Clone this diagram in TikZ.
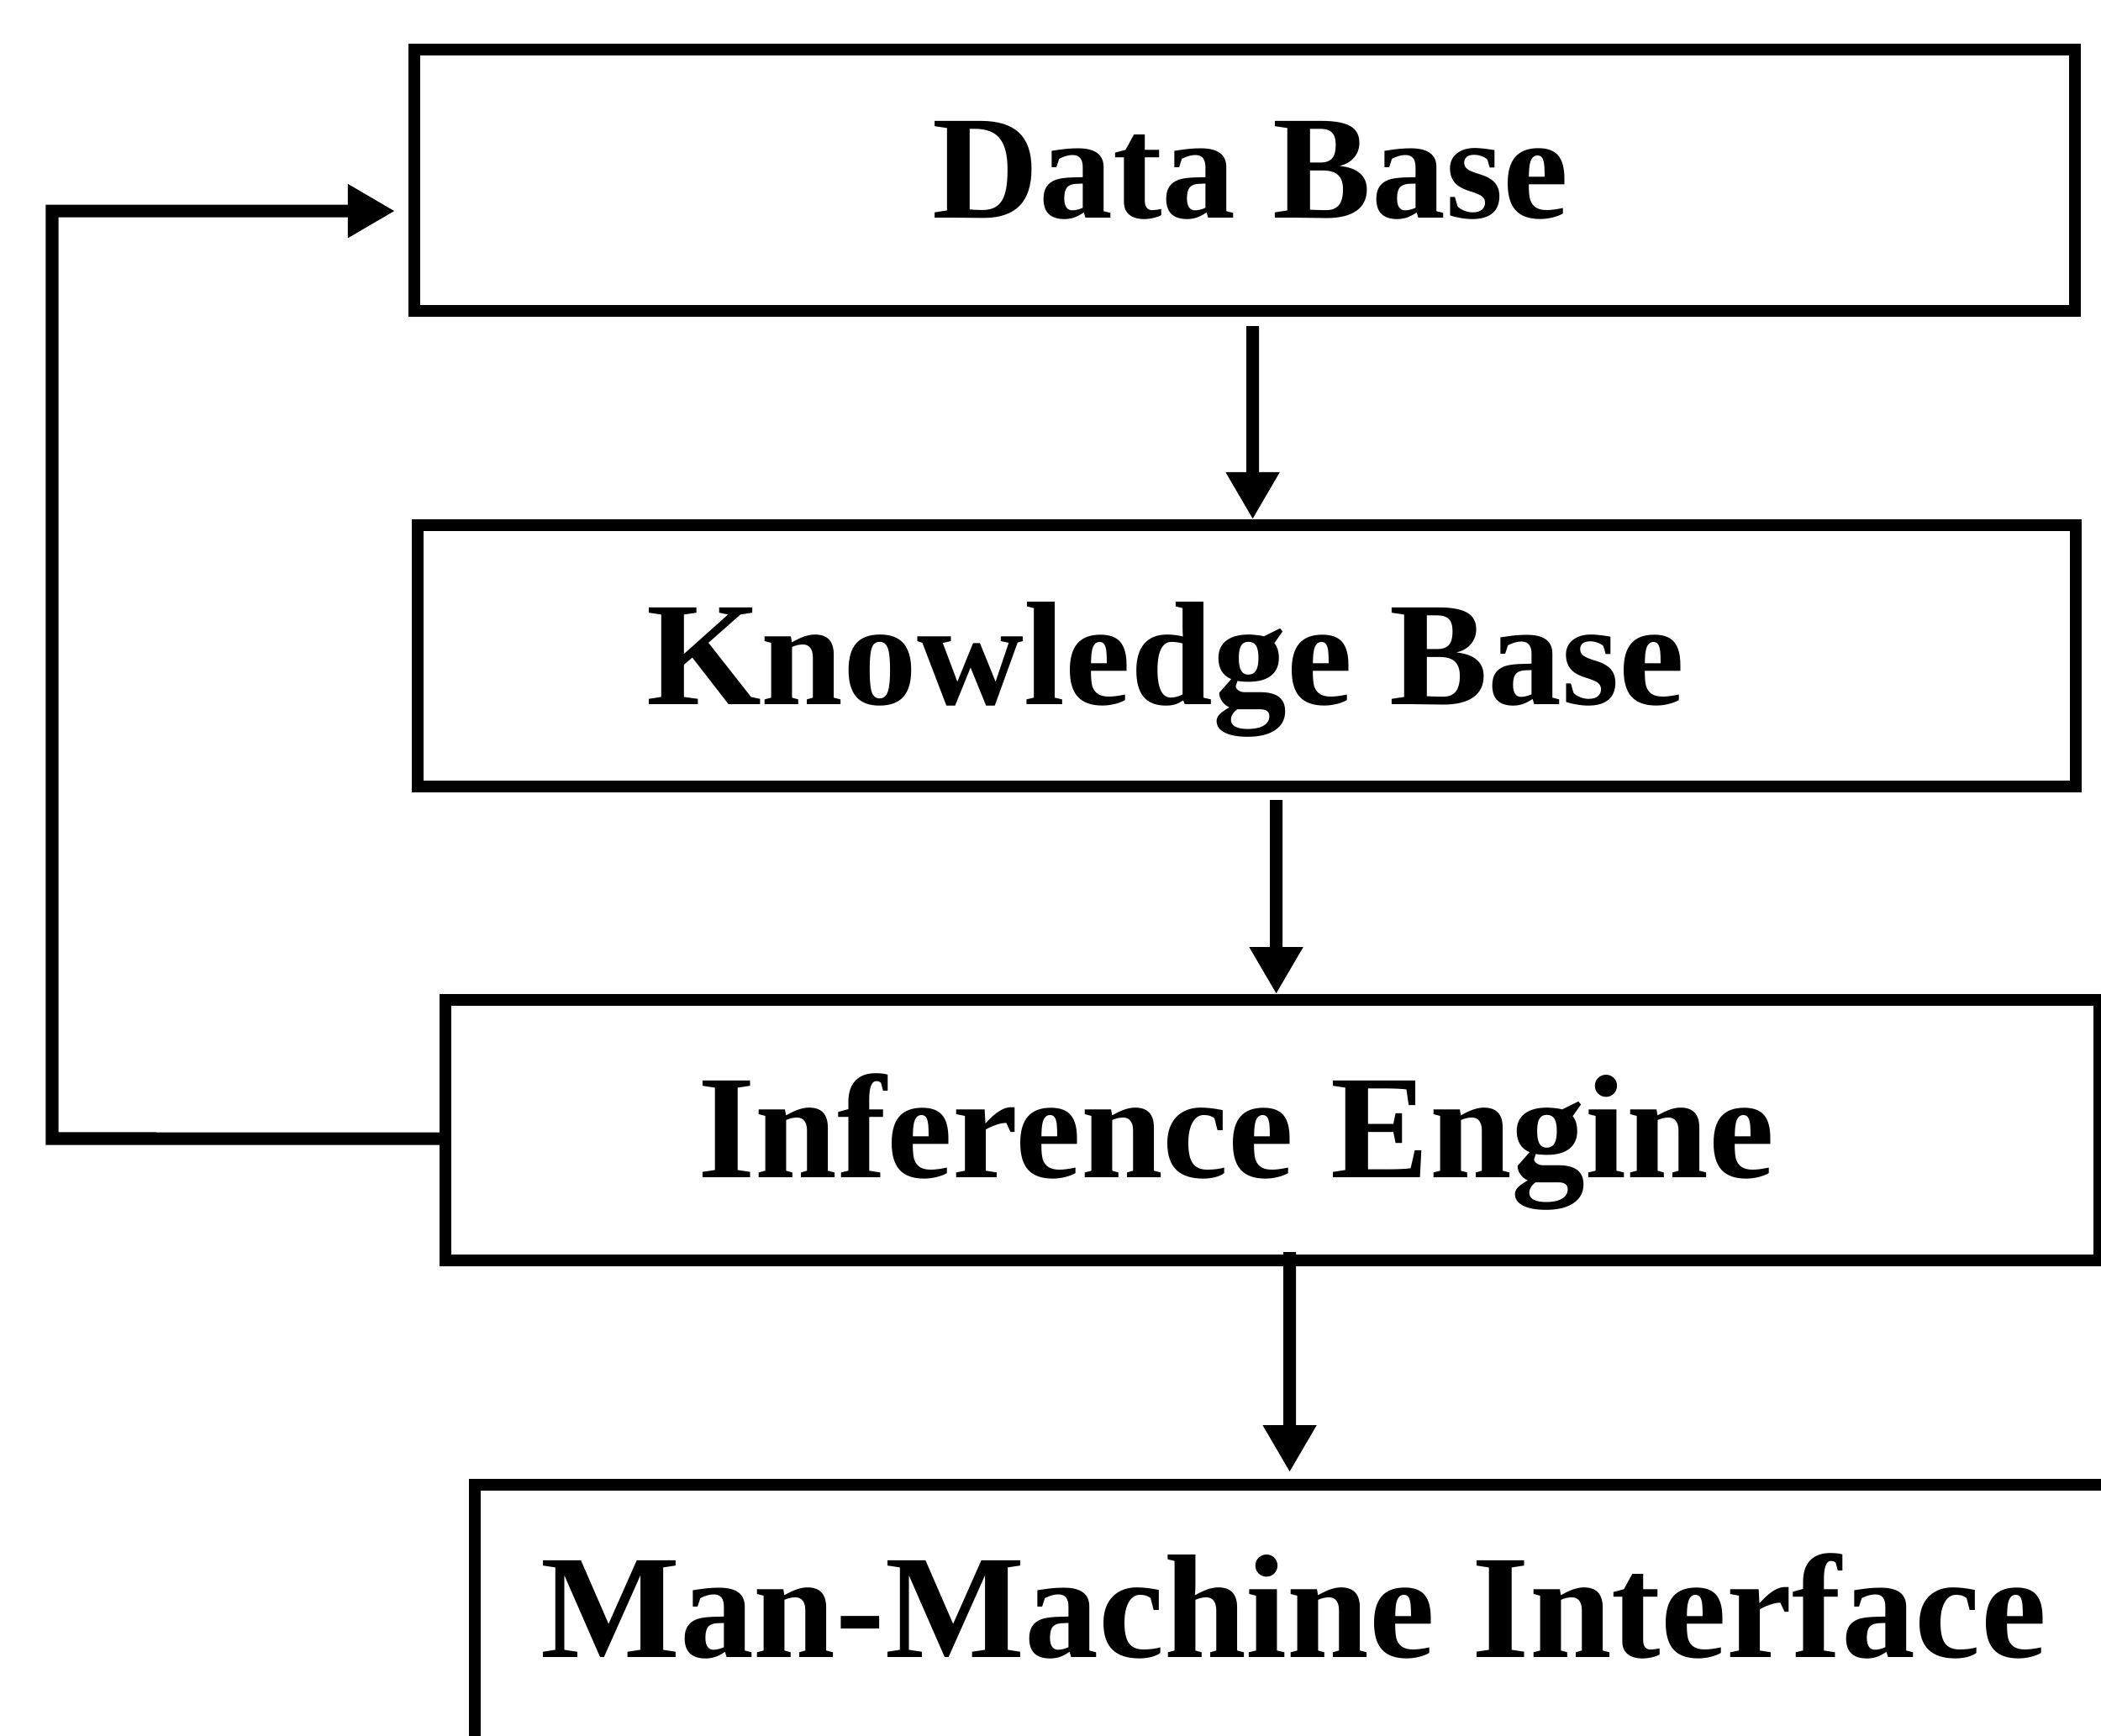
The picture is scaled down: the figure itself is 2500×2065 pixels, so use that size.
\documentclass[tikz,border=0pt]{standalone}
\usepackage{fontspec}
\setmainfont{Liberation Serif}
\usetikzlibrary{arrows.meta,calc}
\begin{document}
\begin{tikzpicture}[x=0.01cm,y=-0.01cm,
  box/.style={draw,line width=4.1pt,rectangle,inner sep=0pt,outer sep=0pt,anchor=north west},
  lbl/.style={font=\fontsize{50}{60}\selectfont\bfseries,anchor=base,inner sep=0pt},
  arr/.style={line width=4.3pt,-{Triangle[length=0.56cm,width=0.6cm]}}]
\clip (0,0) rectangle (2500,2065);
\fill[white] (0,0) rectangle (2500,2065);

% blocks
\node[box,minimum width=19.75cm,minimum height=3.11cm] (db) at (493,59) {};
\node[box,minimum width=19.72cm,minimum height=3.11cm] (kb) at (497,625) {};
\node[box,minimum width=19.67cm,minimum height=3.10cm] (ie) at (530,1190) {};
\node[box,minimum width=20cm,minimum height=4cm] (mmi) at (565,1767) {};

% block titles
\node[lbl] (db-t) at (1488,259) {Data Base};
\node[lbl] (kb-t) at (1387,838) {Knowledge Base};
\node[lbl] (ie-t) at (1471,1401) {Inference Engine};
\node[lbl] (mmi-t) at (1539,1972) {Man-Machine Interface};

% downward flow
\draw[arr] ($(db.south)+(9.5,18)$) -- ($(kb.north)+(7,-7)$);
\draw[arr] ($(kb.south)+(35,16)$) -- ($(ie.north)+(4.5,-7)$);
\draw[arr] ($(ie.south)+(20.5,-10)$) -- ($(mmi.north)+(-31,-15)$);

% feedback loop
\coordinate (loop) at (62,1355);
\draw[arr] ($(ie.west)+(0,10)$) -- (loop) |- ($(db.west)+(-23,36.5)$);
\end{tikzpicture}
\end{document}
